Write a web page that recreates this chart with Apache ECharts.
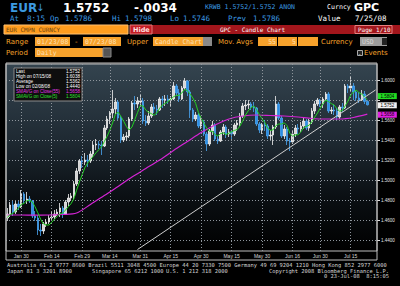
<!DOCTYPE html>
<html><head><meta charset="utf-8">
<script src="https://cdn.jsdelivr.net/npm/echarts@6/dist/echarts.min.js"></script>
<style>html,body{margin:0;padding:0;background:#000;}#c{width:400px;height:286px;}</style>
</head><body><div id="c"></div>
<script>
// ---- data ----
const startDate = '2008-01-23';
const nCategories = 134; // trading days Jan 23 .. Jul 28 (last three left empty)
const xTickDates = ['2008-01-30','2008-02-14','2008-02-29','2008-03-14','2008-03-31','2008-04-15','2008-04-30','2008-05-15','2008-05-30','2008-06-16','2008-06-30','2008-07-15'];
const xTickLabels = ['Jan 30','Feb 14','Feb 29','Mar 14','Mar 31','Apr 15','Apr 30','May 15','May 30','Jun 16','Jun 30','Jul 15'];
const yTicks = [1.44,1.46,1.48,1.50,1.52,1.54,1.56,1.58,1.60];
const yTickLabelsShown = [1.44,1.46,1.48,1.50,1.52,1.54,1.56,1.60]; // 1.5800 is hidden behind the value tags
// open, close, low, high
const ohlc = [
[1.4620,1.4660,1.4590,1.4720],[1.4660,1.4750,1.4630,1.4780],[1.4750,1.4680,1.4640,1.4790],[1.4680,1.4760,1.4660,1.4790],
[1.4760,1.4730,1.4700,1.4790],[1.4730,1.4860,1.4720,1.4900],[1.4860,1.4800,1.4770,1.4880],[1.4800,1.4810,1.4760,1.4880],
[1.4810,1.4790,1.4770,1.4840],[1.4790,1.4640,1.4620,1.4800],[1.4640,1.4620,1.4590,1.4690],[1.4620,1.4500,1.4450,1.4650],
[1.4500,1.4490,1.4440,1.4560],[1.4490,1.4560,1.4460,1.4580],[1.4560,1.4580,1.4530,1.4610],[1.4580,1.4620,1.4560,1.4650],
[1.4620,1.4630,1.4590,1.4680],[1.4630,1.4660,1.4610,1.4700],[1.4660,1.4680,1.4640,1.4710],[1.4680,1.4720,1.4630,1.4770],
[1.4720,1.4660,1.4620,1.4740],[1.4660,1.4780,1.4650,1.4800],[1.4780,1.4820,1.4740,1.4860],[1.4820,1.4840,1.4790,1.4870],
[1.4840,1.4960,1.4810,1.4990],[1.4960,1.5090,1.4940,1.5120],[1.5090,1.5190,1.5060,1.5210],[1.5190,1.5180,1.5120,1.5240],
[1.5180,1.5200,1.5150,1.5270],[1.5200,1.5190,1.5130,1.5250],[1.5190,1.5260,1.5170,1.5290],[1.5260,1.5350,1.5230,1.5390],
[1.5350,1.5360,1.5300,1.5410],[1.5360,1.5350,1.5310,1.5390],[1.5350,1.5340,1.5250,1.5390],[1.5340,1.5520,1.5330,1.5550],
[1.5520,1.5610,1.5500,1.5640],[1.5610,1.5670,1.5560,1.5690],[1.5670,1.5710,1.5620,1.5900],[1.5710,1.5780,1.5660,1.5820],
[1.5780,1.5620,1.5600,1.5800],[1.5620,1.5400,1.5370,1.5640],[1.5400,1.5430,1.5380,1.5460],[1.5430,1.5440,1.5390,1.5480],
[1.5440,1.5610,1.5420,1.5630],[1.5610,1.5770,1.5590,1.5790],[1.5770,1.5760,1.5700,1.5840],[1.5760,1.5790,1.5720,1.5830],
[1.5780,1.5790,1.5730,1.5850],[1.5790,1.5590,1.5560,1.5820],[1.5590,1.5570,1.5540,1.5650],[1.5570,1.5640,1.5550,1.5690],
[1.5640,1.5730,1.5620,1.5760],[1.5730,1.5710,1.5670,1.5770],[1.5710,1.5700,1.5650,1.5750],[1.5700,1.5810,1.5690,1.5830],
[1.5810,1.5800,1.5720,1.5840],[1.5800,1.5810,1.5740,1.5850],[1.5810,1.5800,1.5760,1.5850],[1.5800,1.5810,1.5730,1.5840],
[1.5810,1.5940,1.5800,1.5980],[1.5940,1.5870,1.5840,1.5960],[1.5870,1.5810,1.5780,1.5910],[1.5810,1.5920,1.5800,1.5940],
[1.5920,1.5990,1.5900,1.6020],[1.5990,1.5880,1.5840,1.6000],[1.5880,1.5700,1.5620,1.5900],[1.5700,1.5610,1.5580,1.5720],
[1.5610,1.5650,1.5590,1.5680],[1.5650,1.5540,1.5520,1.5670],[1.5540,1.5580,1.5510,1.5640],[1.5580,1.5460,1.5440,1.5600],
[1.5460,1.5360,1.5290,1.5480],[1.5360,1.5490,1.5340,1.5510],[1.5490,1.5550,1.5450,1.5590],[1.5550,1.5410,1.5390,1.5570],
[1.5410,1.5390,1.5360,1.5440],[1.5390,1.5480,1.5380,1.5500],[1.5480,1.5530,1.5450,1.5560],[1.5530,1.5460,1.5420,1.5550],
[1.5460,1.5480,1.5430,1.5510],[1.5480,1.5460,1.5410,1.5500],[1.5460,1.5550,1.5440,1.5570],[1.5550,1.5570,1.5490,1.5600],
[1.5570,1.5640,1.5540,1.5670],[1.5640,1.5740,1.5620,1.5770],[1.5740,1.5750,1.5700,1.5800],[1.5750,1.5760,1.5710,1.5800],
[1.5760,1.5730,1.5700,1.5780],[1.5730,1.5720,1.5680,1.5780],[1.5720,1.5560,1.5540,1.5730],[1.5560,1.5500,1.5470,1.5580],
[1.5500,1.5550,1.5460,1.5570],[1.5550,1.5540,1.5490,1.5600],[1.5540,1.5440,1.5410,1.5560],[1.5440,1.5450,1.5400,1.5500],
[1.5450,1.5530,1.5350,1.5550],[1.5530,1.5760,1.5510,1.5840],[1.5760,1.5620,1.5600,1.5780],[1.5620,1.5440,1.5420,1.5640],
[1.5440,1.5510,1.5410,1.5550],[1.5510,1.5390,1.5350,1.5530],[1.5390,1.5380,1.5290,1.5420],[1.5380,1.5460,1.5360,1.5490],
[1.5460,1.5520,1.5430,1.5550],[1.5520,1.5510,1.5460,1.5560],[1.5510,1.5540,1.5480,1.5580],[1.5540,1.5590,1.5510,1.5620],
[1.5590,1.5520,1.5500,1.5610],[1.5520,1.5580,1.5490,1.5610],[1.5580,1.5690,1.5560,1.5720],[1.5690,1.5760,1.5660,1.5790],
[1.5760,1.5800,1.5740,1.5820],[1.5800,1.5760,1.5730,1.5810],[1.5760,1.5810,1.5720,1.5830],[1.5810,1.5860,1.5790,1.5880],
[1.5860,1.5690,1.5670,1.5880],[1.5690,1.5700,1.5660,1.5730],[1.5700,1.5690,1.5650,1.5760],[1.5690,1.5630,1.5600,1.5720],
[1.5630,1.5730,1.5610,1.5750],[1.5730,1.5720,1.5680,1.5770],[1.5720,1.5940,1.5710,1.5960],[1.5940,1.5920,1.5870,1.5960],
[1.5920,1.5940,1.5880,1.6038],[1.5940,1.5880,1.5800,1.5970],[1.5880,1.5820,1.5790,1.5900],[1.5820,1.5800,1.5770,1.5880],
[1.5800,1.5860,1.5790,1.5900],[1.5860,1.5786,1.5760,1.5890],[1.5786,1.5752,1.5746,1.5798]
];
const sma5 = [
1.4624,1.4656,1.4664,1.4694,1.4716,1.4756,1.4766,1.4792,1.4798,1.4780,
1.4732,1.4672,1.4608,1.4562,1.4550,1.4550,1.4576,1.4610,1.4634,1.4662,
1.4670,1.4700,1.4732,1.4764,1.4812,1.4898,1.4980,1.5052,1.5124,1.5170,
1.5204,1.5236,1.5272,1.5302,1.5332,1.5384,1.5436,1.5498,1.5570,1.5658,
1.5678,1.5636,1.5588,1.5534,1.5500,1.5530,1.5602,1.5674,1.5744,1.5740,
1.5700,1.5676,1.5664,1.5648,1.5670,1.5718,1.5750,1.5766,1.5784,1.5806,
1.5832,1.5846,1.5846,1.5870,1.5906,1.5894,1.5860,1.5820,1.5766,1.5676,
1.5616,1.5568,1.5518,1.5486,1.5488,1.5454,1.5440,1.5464,1.5472,1.5454,
1.5468,1.5482,1.5496,1.5504,1.5540,1.5592,1.5650,1.5692,1.5724,1.5740,
1.5704,1.5654,1.5612,1.5574,1.5518,1.5496,1.5502,1.5544,1.5560,1.5560,
1.5572,1.5544,1.5468,1.5436,1.5452,1.5452,1.5482,1.5524,1.5536,1.5548,
1.5584,1.5628,1.5670,1.5718,1.5764,1.5798,1.5784,1.5764,1.5750,1.5714,
1.5688,1.5694,1.5742,1.5788,1.5850,1.5880,1.5900,1.5872,1.5860,1.5829,
1.5804];
// 55-day average, [day index, value]
const sma55 = [[0,1.4650],[5,1.4650],[10,1.4648],[15,1.4650],[20,1.4655],[25,1.4670],[30,1.4755],[35,1.4845],
[40,1.4935],[45,1.5030],[50,1.5115],[55,1.5200],[60,1.5295],[65,1.5385],[70,1.5475],[75,1.5550],[80,1.5610],
[85,1.5640],[90,1.5650],[95,1.5645],[100,1.5640],[105,1.5630],[110,1.5615],[115,1.5610],[120,1.5610],[125,1.5625],[130,1.5658]];
const trendLine = [[47,1.4305],[133,1.5901]];
const tagLast = 1.5752, tagSma5 = 1.5804, tagSma55 = 1.5658;
const legendRows = [['Last','1.5752'],['High on 07/15/08','1.6038'],['Average','1.5362'],['Low on 02/08/08','1.4440'],['SMAVG on Close(55)','1.5658'],['SMAVG on Close(5)','1.5804']];

// categories: weekdays from start date
const dates = [];
(function(){let t=Date.parse(startDate+'T00:00:00Z');while(dates.length<nCategories){const d=new Date(t);const w=d.getUTCDay();if(w!==0&&w!==6)dates.push(d.toISOString().slice(0,10));t+=86400000;}})();

// ---- decorations ----
const BLUE='#3c9ae0', ORANGE='#f5a32a', BOXF='#f7a22c', BOXT='#fde0b4';
const G=[];
function T(x,y,text,fill,font,align,z){G.push({type:'text',x:x,y:y,z:z||50,silent:true,style:{text:text,fill:fill,font:font,textAlign:align||'left',textVerticalAlign:'middle'}});}
function R(x,y,w,h,fill,stroke,z){G.push({type:'rect',z:z||40,silent:true,shape:{x:x,y:y,width:w,height:h},style:{fill:fill||'none',stroke:stroke||null,lineWidth:1}});}
const MONO='"DejaVu Sans Mono"', SANS='"DejaVu Sans"', LIB='"Liberation Sans"';
// line 1
T(10,7.5,'EUR',BLUE,'bold 12px '+SANS);
T(36,7.5,'\u2193',BLUE,'10px '+SANS);
T(63,7.5,'1.5752','#ffffff','bold 12px '+SANS);
T(134,7.5,'-.0034','#ffffff','bold 12px '+SANS);
T(205,7,'KRWB 1.5752/1.5752 ANON',BLUE,'6.5px '+MONO);
T(327,7,'Curncy','#ffffff','6.6px '+MONO);
T(354,7.5,'GPC','#ffffff','bold 11px '+SANS);
// line 2
const L2='7.5px '+MONO;
T(10,18.5,'At',BLUE,L2);T(27,18.5,'8:15',BLUE,L2);T(50,18.5,'Op',BLUE,L2);T(65,18.5,'1.5786',BLUE,L2);
T(112,18.5,'Hi',BLUE,L2);T(125,18.5,'1.5798',BLUE,L2);T(170,18.5,'Lo',BLUE,L2);T(183,18.5,'1.5746',BLUE,L2);
T(228,18.5,'Prev',BLUE,L2);T(253,18.5,'1.5786',BLUE,L2);T(318,18.5,'Value','#ffffff',L2);T(355,18.5,'7/25/08','#ffffff',L2);
// line 3
R(4,25,124,9,'#ff9d1e','#ffc070');
T(6,29.8,'EUR CMPN CURNCY','#6a4210','6px '+MONO);
R(152,25,248,9,'#a3161c');
R(130,25,22,9,'#c41c24','#e07a7a');
T(133,29.8,'Hide','#ffe0e0','bold 6.5px '+SANS);
T(220,29.8,'GPC - Candle Chart','#ffffff','6px '+MONO);
R(355,25.5,37,8,null,'#e88080');
T(358,29.8,'Page 1/10','#ffffff','6px '+MONO);
// line 4
const LF='7px '+SANS, BF='6.5px '+MONO;
T(6,41.5,'Range',ORANGE,LF);
R(35,37,35,9,BOXF);T(37,41.5,'01/23/08',BOXT,BF);
T(75,41.5,'-',ORANGE,LF);
R(83,37,38,9,BOXF);T(85,41.5,'07/23/08',BOXT,BF);
T(127,41.5,'Upper',ORANGE,LF);
R(153,37,50,9,BOXF);T(155,41.5,'Candle Chart',BOXT,BF);
R(203,37,9,9,'#8a8a8a');
T(218,41.5,'Mov. Avgs',ORANGE,LF);
R(258,37,19,9,BOXF);T(276,41.5,'55',BOXT,BF,'right');
R(278,37,19,9,BOXF);T(296,41.5,'5',BOXT,BF,'right');
R(298,37,20,9,BOXF);
T(321,41.5,'Currency',ORANGE,LF);
R(360,37,27,9,'#9c9c9c');T(362,41.5,'USD','#d8d8d8',BF);R(382,38,5,7,'#222');
// line 5
T(6,52.5,'Period',ORANGE,LF);
R(35,48,68,9,BOXF);T(37,52.5,'Daily',BOXT,BF);
R(103,48,8,9,'#555555','#888');
R(357.5,50.5,5,5,'#222','#aaaaaa');T(358.5,53,'-','#cccccc','6px '+SANS);
T(364,52.5,'Events',ORANGE,LF);
// chart frame
R(6,63,371,197,null,'#bdbdbd',30);
// legend box
R(14,68,68,33,'#0e0e0e','#8c8c8c',90);
const legendColors=['#ffffff','#ffffff','#ffffff','#ffffff','#e238e2','#2fe02f'];
legendRows.forEach(function(r,k){T(16,71.5+k*5,r[0],legendColors[k],'4.6px '+LIB,'left',95);T(80,71.5+k*5,r[1],legendColors[k],'4.6px '+LIB,'right',95);});
// footer
const FF='5.4px '+MONO, FC='#d4d4d4';
T(7,265,'Australia 61 2 9777 8600 Brazil 5511 3048 4500 Europe 44 20 7330 7500 Germany 49 69 9204 1210 Hong Kong 852 2977 6000',FC,FF);
T(7,270.5,'Japan 81 3 3201 8900',FC,FF);T(92,270.5,'Singapore 65 6212 1000',FC,FF);T(166,270.5,'U.S. 1 212 318 2000',FC,FF);
T(389,270.5,'Copyright 2008 Bloomberg Finance L.P.',FC,FF,'right');
T(389,276,'0 23-Jul-08  8:15:05',FC,FF,'right');

const gridLine={color:'#8f969d',type:[1,2],width:1};
function tag(value,color,dy){return {coord:[ohlc.length-1,value],value:value,symbol:'rect',symbolSize:[19,6],symbolOffset:[20,dy],
  itemStyle:{color:color},label:{show:true,position:'inside',formatter:value.toFixed(4),color:'#000',fontSize:4.5,fontFamily:'Liberation Sans'}};}

const chart=echarts.init(document.getElementById('c'),null,{renderer:'svg',width:400,height:286});
chart.setOption({
  animation:false,
  backgroundColor:'#000',
  graphic:G,
  grid:{left:6,right:23,top:64,bottom:35,show:true,borderColor:'#bdbdbd',borderWidth:1,
    backgroundColor:{type:'linear',x:0,y:0,x2:0,y2:1,colorStops:[{offset:0,color:'#34444f'},{offset:0.4,color:'#1f2a33'},{offset:0.7,color:'#0b1014'},{offset:1,color:'#000000'}]}},
  xAxis:{type:'category',data:dates,boundaryGap:true,axisLine:{show:false},axisTick:{show:false},splitLine:{show:false},
    axisLabel:{interval:function(i,v){return xTickDates.indexOf(v)>=0;},formatter:function(v){const k=xTickDates.indexOf(v);return k>=0?xTickLabels[k]:'';},
      color:'#d6d6d6',fontSize:5,fontFamily:'Liberation Sans',margin:2}},
  yAxis:{type:'value',position:'right',min:1.429,max:1.616,splitNumber:9,scale:true,
    axisLine:{show:false},
    axisTick:{show:true,length:3,customValues:yTicks,lineStyle:{color:'#dddddd'}},
    axisLabel:{customValues:yTickLabelsShown,formatter:function(v){return v.toFixed(4);},color:'#e0e0e0',fontSize:4.5,fontFamily:'Liberation Sans',margin:4},
    splitLine:{show:true,lineStyle:gridLine}},
  series:[
    {type:'candlestick',name:'EUR',data:ohlc,barWidth:2,z:2,
      itemStyle:{color:'#d4d4d4',color0:'#2b8de6',borderColor:'#f2f2f2',borderColor0:'#4aa6f2',borderWidth:0.8},
      markLine:{silent:true,symbol:'none',label:{show:false},lineStyle:gridLine,data:xTickDates.map(function(d){return {xAxis:d};})},
      markPoint:{silent:true,data:[tag(tagLast,'#f0f0f0',0.5)]}},
    {type:'line',name:'SMAVG on Close(5)',data:sma5,symbol:'none',z:4,lineStyle:{color:'#22d022',width:1},
      markPoint:{silent:true,data:[tag(tagSma5,'#22dd22',-3.5)]}},
    {type:'line',name:'SMAVG on Close(55)',data:sma55,symbol:'none',smooth:0.3,z:3,lineStyle:{color:'#d424d4',width:1.2},
      markPoint:{silent:true,data:[tag(tagSma55,'#e020e0',0.5)]}},
    {type:'line',name:'Trend',data:trendLine,symbol:'none',z:5,lineStyle:{color:'#cfcfcf',width:1}}
  ]
});
</script></body></html>
